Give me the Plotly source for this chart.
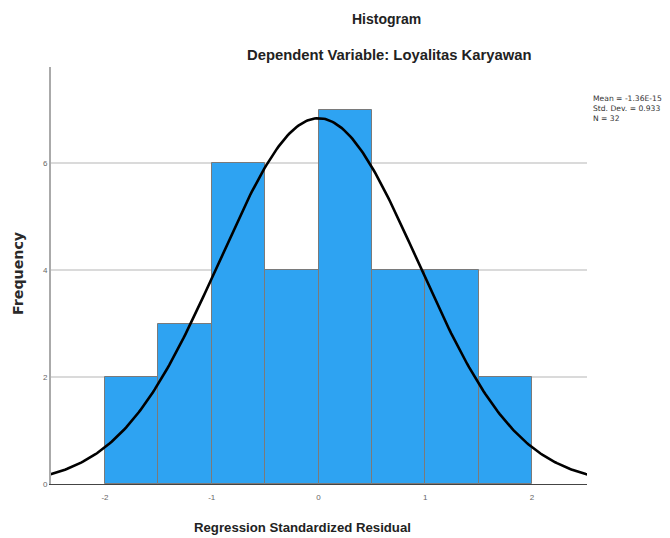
import numpy as np
import plotly.graph_objects as go

bin_left = [-2.0, -1.5, -1.0, -0.5, 0.0, 0.5, 1.0, 1.5]
bin_width = 0.5
counts = [2, 3, 6, 4, 7, 4, 4, 2]
mean = -1.36e-15
std = 0.933
n = 32
x_ticks = [-2, -1, 0, 1, 2]
y_ticks = [0, 2, 4, 6]

centers = [b + bin_width / 2 for b in bin_left]

xs = np.linspace(-2.51, 2.52, 300)
ys = n * bin_width * np.exp(-0.5 * ((xs - mean) / std) ** 2) / (std * np.sqrt(2 * np.pi))

fig = go.Figure()
fig.add_trace(go.Bar(
    x=centers, y=counts, width=bin_width,
    marker=dict(color="#2ea3f2", line=dict(color="#7a7a7a", width=1)),
    hoverinfo="skip",
))
fig.add_trace(go.Scatter(
    x=xs, y=ys, mode="lines",
    line=dict(color="black", width=2.6), hoverinfo="skip",
))

# screenshot pixel -> paper coords (page has an 8px body margin)
def px(sx):
    return (sx - 51) / 536

def py(sy):
    return (484 - sy) / 417

arial = "Arial, Liberation Sans, sans-serif"
ann_common = dict(xref="paper", yref="paper", showarrow=False, xanchor="center", yanchor="middle")
fig.update_layout(
    width=670, height=538,
    margin=dict(l=43, r=91, t=59, b=62),
    paper_bgcolor="white", plot_bgcolor="white",
    showlegend=False, bargap=0,
    font=dict(family=arial, color="#222"),
    xaxis=dict(
        range=[-2.506, 2.515], tickvals=x_ticks, ticktext=[str(t) for t in x_ticks],
        showgrid=False, zeroline=False, showline=True, linecolor="#444", linewidth=1.2,
        ticks="outside", ticklen=5, tickcolor="rgba(0,0,0,0)",
        tickfont=dict(size=8, color="#666"),
    ),
    yaxis=dict(
        range=[0, 7.8], tickvals=y_ticks, ticktext=[str(t) for t in y_ticks],
        showgrid=True, gridcolor="#dadada", gridwidth=1.5, zeroline=False,
        showline=True, linecolor="#aaa", linewidth=2,
        ticks="", tickfont=dict(size=8, color="#666"),
    ),
    annotations=[
        dict(text="<b>Histogram</b>", x=px(386), y=py(19),
             font=dict(size=14, color="#222", family=arial), **ann_common),
        dict(text="<b>Dependent Variable: Loyalitas Karyawan</b>", x=px(389), y=py(55),
             font=dict(size=14.8, color="#222", family=arial), **ann_common),
        dict(text="<b>Regression Standardized Residual</b>", x=px(302), y=py(527),
             font=dict(size=13.2, color="#222", family=arial), **ann_common),
        dict(text="<b>Frequency</b>", x=px(18), y=py(274), textangle=-90,
             font=dict(size=14.2, color="#2a2a2a", family="DejaVu Sans"), **ann_common),
        dict(text="Mean = -1.36E-15<br>Std. Dev. = 0.933<br>N = 32", x=px(591), y=py(92),
             xref="paper", yref="paper", showarrow=False, xanchor="left", yanchor="top",
             align="left", font=dict(size=7.6, color="#333", family="DejaVu Sans")),
    ],
)

fig.write_html("out.html")
